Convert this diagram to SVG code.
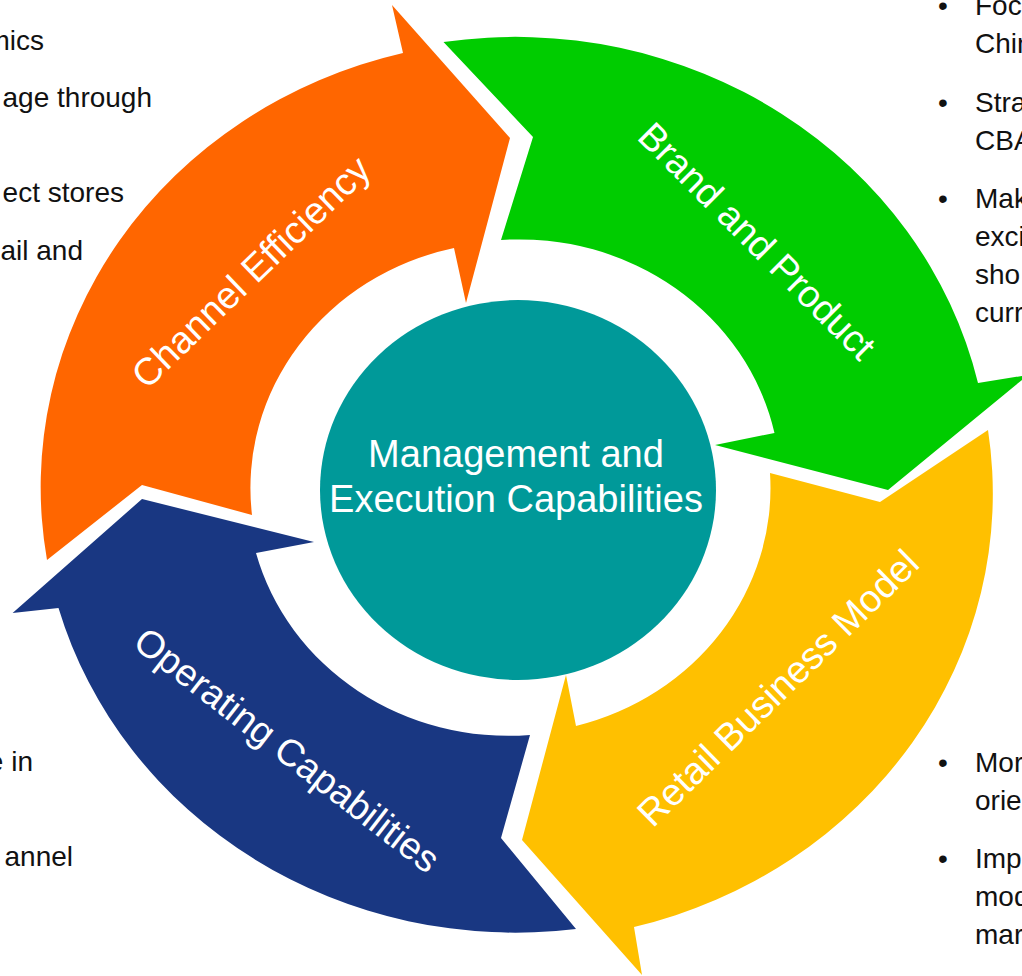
<svg xmlns="http://www.w3.org/2000/svg" width="1022" height="976" viewBox="0 0 1022 976">
  <style>
    .lbl { font-family: "Liberation Sans", Arial, sans-serif; font-size: 38px; fill: #ffffff; text-anchor: middle; }
    .note { font-family: "Liberation Sans", Arial, sans-serif; font-size: 28px; fill: #111111; }
    .end { text-anchor: end; }
    .bul { text-anchor: middle; }
  </style>
  <rect x="0" y="0" width="1022" height="976" fill="#ffffff"/>

  <g id="arrow-channel-efficiency">
    <path fill="#ff6600" d="M 47 560 L 142 485 L 252 515 A 261 246 0 0 1 454 248 L 466 303 L 510 138 L 392 5 L 403 53 A 475 447 0 0 0 47 560 Z"/>
    <text class="lbl" x="251" y="272" dominant-baseline="central" transform="rotate(-44 251 272)">Channel Efficiency</text>
  </g>

  <g id="arrow-brand-product">
    <path fill="#00cc00" d="M 443.5 42 L 533 137 L 501 240 A 261 246 0 0 1 774.5 433 L 715 445 L 888 490 L 1028 375 L 978 383 A 475 447 0 0 0 443.5 42 Z"/>
    <text class="lbl" x="757" y="241" dominant-baseline="central" transform="rotate(45 757 241)">Brand and Product</text>
  </g>

  <g id="arrow-retail-business-model">
    <path fill="#ffc000" d="M 988 430 L 880 502 L 770 473 A 261 246 0 0 1 576 726 L 566 675 L 522 840 L 642 975 L 634 927 A 475 447 0 0 0 988 430 Z"/>
    <text class="lbl" x="778" y="688" dominant-baseline="central" transform="rotate(-44.4 778 688)">Retail Business Model</text>
  </g>

  <g id="arrow-operating-capabilities">
    <path fill="#193782" d="M 576 929 L 501 838 L 530 735 A 261 246 0 0 1 256 553 L 314 542 L 142 499 L 12.6 613 L 58.5 608 A 475 447 0 0 0 576 929 Z"/>
    <text class="lbl" x="287" y="750" dominant-baseline="central" transform="rotate(37.7 287 750)">Operating Capabilities</text>
  </g>

  <g id="center-management">
    <ellipse cx="518" cy="490" rx="198" ry="190" fill="#009999"/>
    <text class="lbl" x="516" y="467">Management and</text>
    <text class="lbl" x="516" y="512">Execution Capabilities</text>
  </g>

  <g id="notes-left">
    <text class="note end" x="44" y="50">mics</text>
    <text class="note end" x="152" y="107">age through</text>
    <text class="note end" x="124" y="202">ect stores</text>
    <text class="note end" x="83" y="260">ail and</text>
    <text class="note end" x="33" y="771">e in</text>
    <text class="note end" x="73" y="866">annel</text>
  </g>

  <g id="notes-right">
    <text class="note bul" x="943" y="15">•</text>
    <text class="note" x="975" y="15">Focu</text>
    <text class="note" x="975" y="53">Chin</text>
    <text class="note bul" x="943" y="112">•</text>
    <text class="note" x="975" y="112">Stra</text>
    <text class="note" x="975" y="150">CBA</text>
    <text class="note bul" x="943" y="208">•</text>
    <text class="note" x="975" y="208">Mak</text>
    <text class="note" x="975" y="246">exci</text>
    <text class="note" x="975" y="284">sho</text>
    <text class="note" x="975" y="322">curr</text>
    <text class="note bul" x="943" y="772">•</text>
    <text class="note" x="975" y="772">Mor</text>
    <text class="note" x="975" y="810">orie</text>
    <text class="note bul" x="943" y="868">•</text>
    <text class="note" x="975" y="868">Imp</text>
    <text class="note" x="975" y="906">mod</text>
    <text class="note" x="975" y="944">mar</text>
  </g>
</svg>
